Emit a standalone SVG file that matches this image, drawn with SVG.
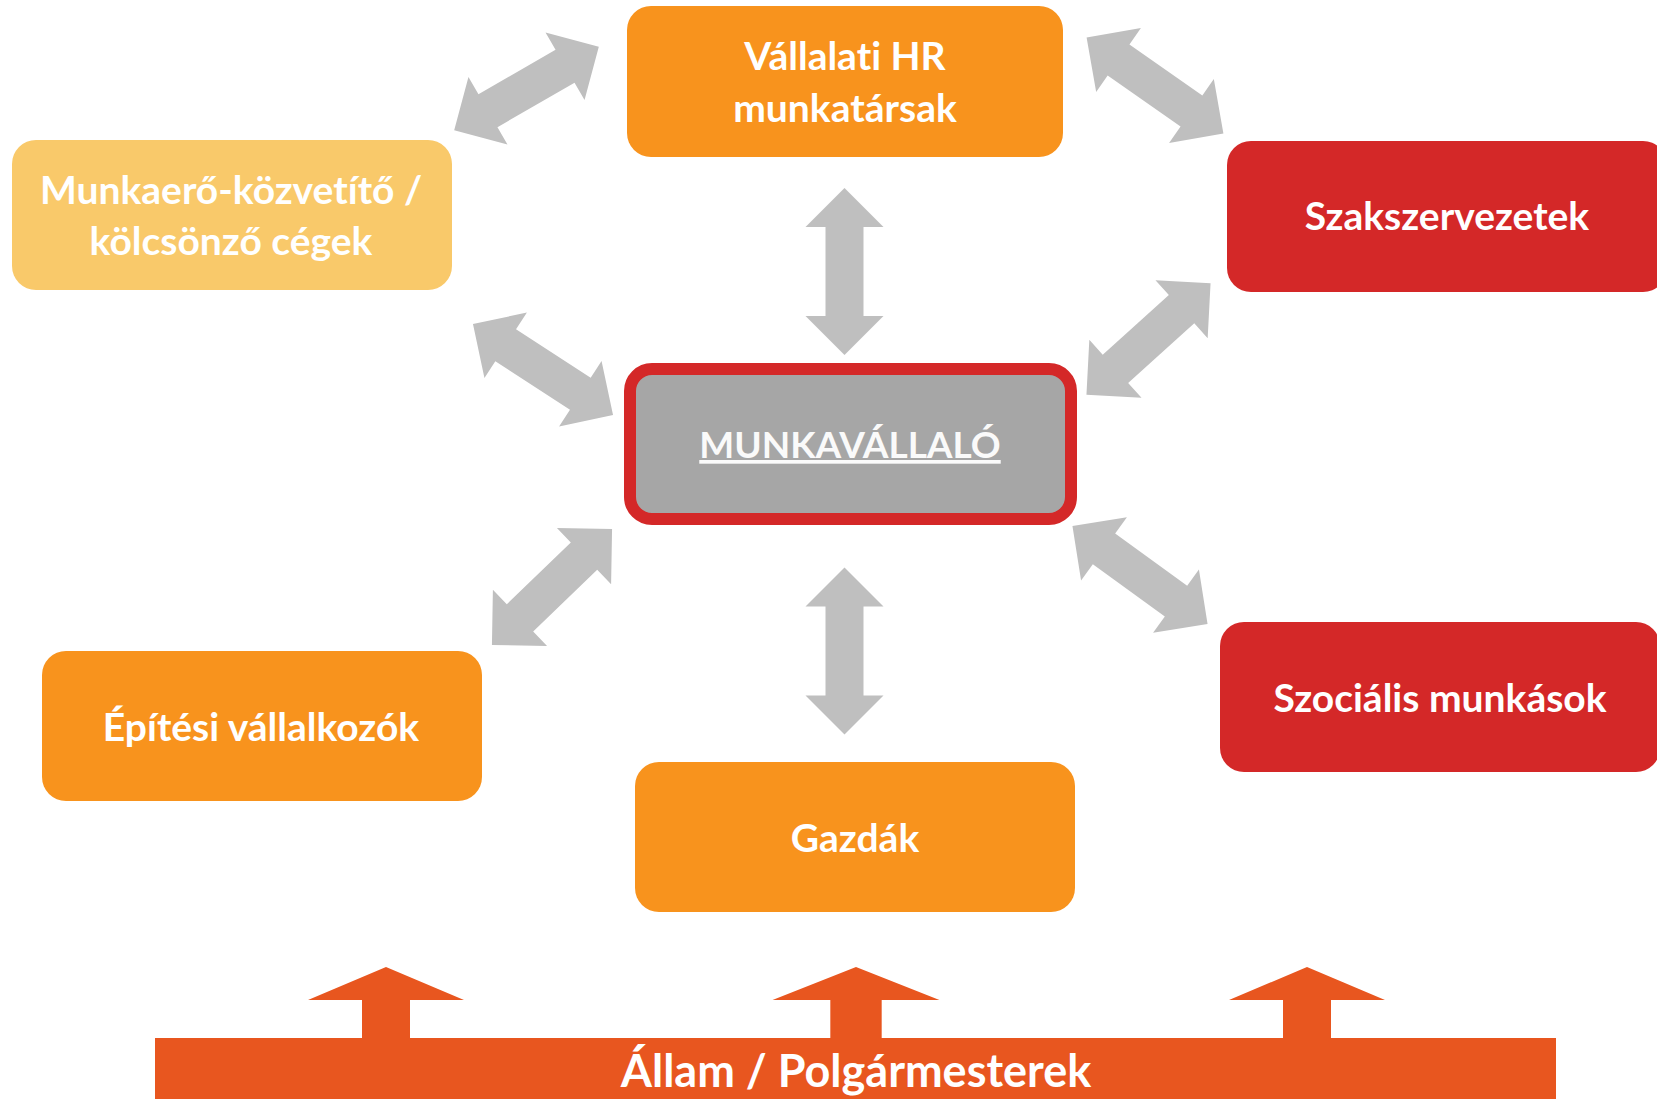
<svg xmlns="http://www.w3.org/2000/svg" xmlns:xlink="http://www.w3.org/1999/xlink" width="1657" height="1099" viewBox="0 0 1657 1099">
  <style>
    .box { stroke: none; }
    .orange { fill: #F8931D; }
    .light { fill: #F9C96A; }
    .red { fill: #D42828; }
    .label { font-family: Lato, "Open Sans", "Liberation Sans", sans-serif; font-weight: 700; font-size: 39px; fill: #FFFFFF; text-anchor: middle; font-variant-ligatures: none; }
    .conn { fill: #BFBFBF; }
    .state { fill: #E8561F; }
  </style>
  <defs>
    <!-- double-headed block arrow, vertical, centred on the origin -->
    <path id="dbl" d="M0,-83.5 L39,-44.5 L19,-44.5 L19,44.5 L39,44.5 L0,83.5 L-39,44.5 L-19,44.5 L-19,-44.5 L-39,-44.5 Z"/>
    <!-- upward block arrow standing on the bottom bar -->
    <path id="up" d="M0,-71 L78,-38 L24,-38 L24,2 L-24,2 L-24,-38 L-78,-38 Z"/>
  </defs>

  <rect width="1657" height="1099" fill="#FFFFFF"/>

  <!-- connectors -->
  <g id="connectors" class="conn">
    <use xlink:href="#dbl" transform="translate(844.5,271.5)"/>
    <use xlink:href="#dbl" transform="translate(844.5,651)"/>
    <use xlink:href="#dbl" transform="translate(526.5,88.5) rotate(60)"/>
    <use xlink:href="#dbl" transform="translate(1155,85.5) rotate(-55)"/>
    <use xlink:href="#dbl" transform="translate(1148.5,339) rotate(48)"/>
    <use xlink:href="#dbl" transform="translate(543,369.5) rotate(-57)"/>
    <use xlink:href="#dbl" transform="translate(552,587) rotate(46)"/>
    <use xlink:href="#dbl" transform="translate(1140,575) rotate(-54)"/>
  </g>

  <g id="node-hr">
    <rect class="box orange" x="627" y="6" width="436" height="151" rx="24"/>
    <text class="label" x="845" y="70">Vállalati HR</text>
    <text class="label" x="845" y="122">munkatársak</text>
  </g>

  <g id="node-kozvetito">
    <rect class="box light" x="12" y="140" width="440" height="150" rx="24"/>
    <text class="label" x="231" y="204">Munkaerő-közvetítő /</text>
    <text class="label" x="231" y="255">kölcsönző cégek</text>
  </g>

  <g id="node-szakszervezetek">
    <rect class="box red" x="1227" y="141" width="440" height="151" rx="24"/>
    <text class="label" x="1447" y="230">Szakszervezetek</text>
  </g>

  <g id="node-munkavallalo">
    <rect x="630" y="369" width="441" height="150" rx="22" fill="#A6A6A6" stroke="#D42828" stroke-width="12"/>
    <text class="label" x="850" y="458" text-decoration="underline" style="fill:#FAFAFA;font-size:37px">MUNKAVÁLLALÓ</text>
  </g>

  <g id="node-epitesi">
    <rect class="box orange" x="42" y="651" width="440" height="150" rx="24"/>
    <text class="label" x="261" y="741">Építési vállalkozók</text>
  </g>

  <g id="node-gazdak">
    <rect class="box orange" x="635" y="762" width="440" height="150" rx="24"/>
    <text class="label" x="855" y="852">Gazdák</text>
  </g>

  <g id="node-szocialis">
    <rect class="box red" x="1220" y="622" width="440" height="150" rx="24"/>
    <text class="label" x="1440" y="712">Szociális munkások</text>
  </g>

  <g id="node-allam">
    <g class="state">
      <use xlink:href="#up" transform="translate(386,1038)"/>
      <use xlink:href="#up" transform="translate(856,1038) scale(1.07,1)"/>
      <use xlink:href="#up" transform="translate(1307,1038)"/>
      <rect x="155" y="1038" width="1401" height="62"/>
    </g>
    <text class="label" x="856" y="1087" style="font-size:45px">Állam / Polgármesterek</text>
  </g>
</svg>
